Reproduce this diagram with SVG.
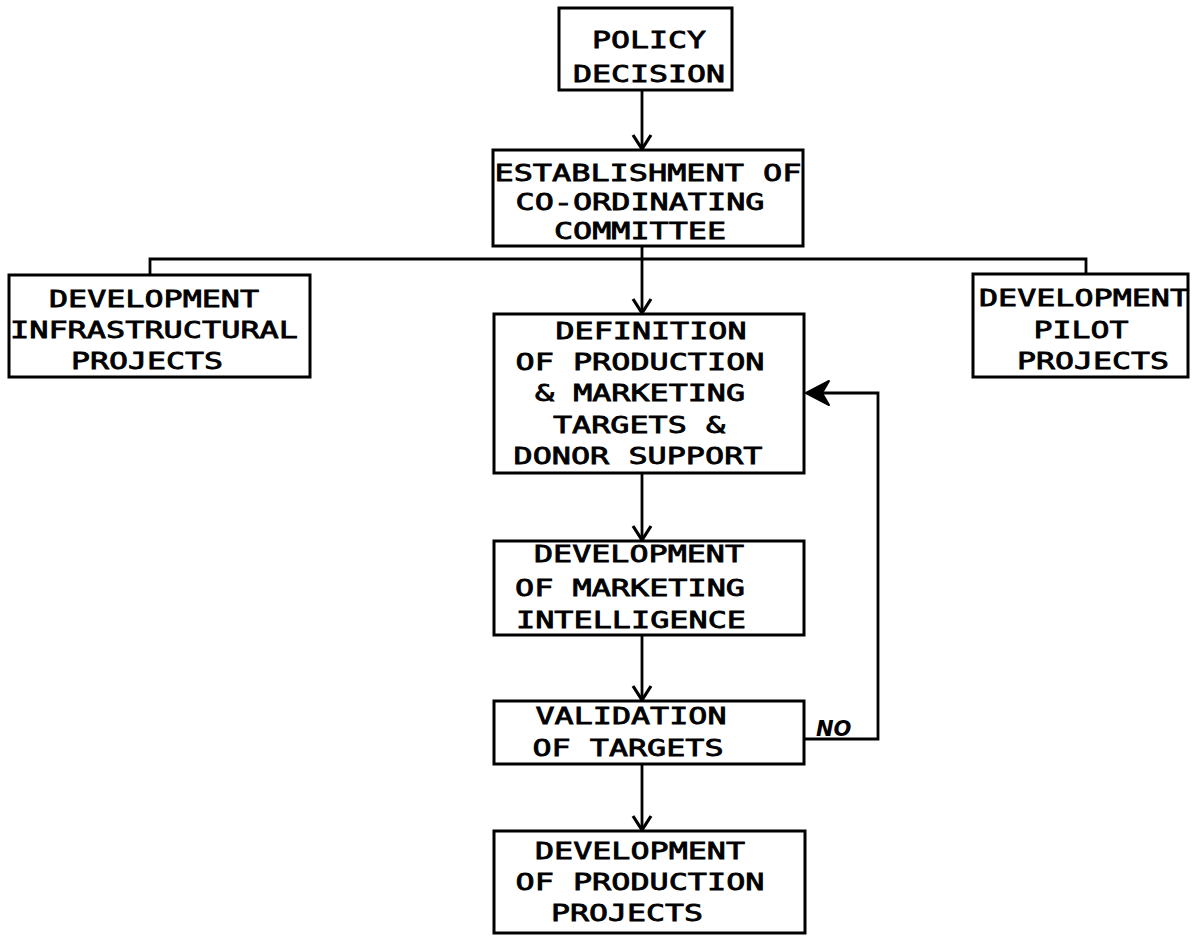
<svg xmlns="http://www.w3.org/2000/svg" width="1192" height="937" viewBox="0 0 1192 937">
<style>
.box{fill:#fff;stroke:#000;stroke-width:3}
.t{font-family:"DejaVu Sans Mono","Liberation Mono",monospace;font-size:23.5px;font-weight:normal;fill:#000;stroke:#000;stroke-width:0.8;text-anchor:middle}
.ln{fill:none;stroke:#000;stroke-width:2.8}
.no{font-family:"DejaVu Sans","Liberation Sans",sans-serif;font-size:21px;font-weight:bold;font-style:italic;fill:#000}
</style>
<defs>
<marker id="v" viewBox="-16 -11 18 22" markerWidth="18" markerHeight="22" refX="0" refY="0" orient="auto" markerUnits="userSpaceOnUse">
<path d="M-14,-9 L0,0 L-14,9" fill="none" stroke="#000" stroke-width="3.2"/>
</marker>
</defs>
<rect width="1192" height="937" fill="#fff"/>
<g id="connectors">
<line class="ln" x1="642" y1="90" x2="642" y2="149" marker-end="url(#v)"/>
<line class="ln" x1="642" y1="246" x2="642" y2="313" marker-end="url(#v)"/>
<polyline class="ln" points="150,275 150,259 1086,259 1086,274"/>
<line class="ln" x1="642" y1="473" x2="642" y2="540" marker-end="url(#v)"/>
<line class="ln" x1="642" y1="635" x2="642" y2="700" marker-end="url(#v)"/>
<line class="ln" x1="642" y1="764" x2="642" y2="830" marker-end="url(#v)"/>
<polyline class="ln" points="804,739 878,739 878,393 815,393"/>
<path d="M806,393 L829,381 L822,393 L829,405 Z" fill="#000" stroke="#000" stroke-width="2" stroke-linejoin="round"/>
<text class="no" x="816" y="736">NO</text>
</g>
<g id="policy">
<rect class="box" x="559" y="8" width="173" height="82"/>
<text class="t" x="649" y="48" textLength="114" lengthAdjust="spacingAndGlyphs">POLICY</text>
<text class="t" x="649" y="82" textLength="152" lengthAdjust="spacingAndGlyphs">DECISION</text>
</g>
<g id="establishment">
<rect class="box" x="493" y="150" width="310" height="96"/>
<text class="t" x="648" y="181" textLength="307" lengthAdjust="spacingAndGlyphs">ESTABLISHMENT OF</text>
<text class="t" x="640" y="210" textLength="249" lengthAdjust="spacingAndGlyphs">CO-ORDINATING</text>
<text class="t" x="640" y="239" textLength="172" lengthAdjust="spacingAndGlyphs">COMMITTEE</text>
</g>
<g id="infrastructural">
<rect class="box" x="9" y="275" width="301" height="102"/>
<text class="t" x="154" y="307" textLength="210" lengthAdjust="spacingAndGlyphs">DEVELOPMENT</text>
<text class="t" x="154" y="338" textLength="288" lengthAdjust="spacingAndGlyphs">INFRASTRUCTURAL</text>
<text class="t" x="147" y="369" textLength="152" lengthAdjust="spacingAndGlyphs">PROJECTS</text>
</g>
<g id="pilot">
<rect class="box" x="973" y="274" width="215" height="103"/>
<text class="t" x="1084" y="306" textLength="210" lengthAdjust="spacingAndGlyphs">DEVELOPMENT</text>
<text class="t" x="1081" y="338" textLength="95" lengthAdjust="spacingAndGlyphs">PILOT</text>
<text class="t" x="1093" y="369" textLength="152" lengthAdjust="spacingAndGlyphs">PROJECTS</text>
</g>
<g id="definition">
<rect class="box" x="494" y="314" width="310" height="159"/>
<text class="t" x="651" y="339" textLength="191" lengthAdjust="spacingAndGlyphs">DEFINITION</text>
<text class="t" x="640" y="370" textLength="249" lengthAdjust="spacingAndGlyphs">OF PRODUCTION</text>
<text class="t" x="640" y="401" textLength="210" lengthAdjust="spacingAndGlyphs">&amp; MARKETING</text>
<text class="t" x="639" y="433" textLength="172" lengthAdjust="spacingAndGlyphs">TARGETS &amp;</text>
<text class="t" x="638" y="464" textLength="249" lengthAdjust="spacingAndGlyphs">DONOR SUPPORT</text>
</g>
<g id="marketing">
<rect class="box" x="494" y="541" width="310" height="94"/>
<text class="t" x="639" y="562" textLength="210" lengthAdjust="spacingAndGlyphs">DEVELOPMENT</text>
<text class="t" x="630" y="596" textLength="230" lengthAdjust="spacingAndGlyphs">OF MARKETING</text>
<text class="t" x="631" y="628" textLength="230" lengthAdjust="spacingAndGlyphs">INTELLIGENCE</text>
</g>
<g id="validation">
<rect class="box" x="494" y="701" width="310" height="63"/>
<text class="t" x="631" y="724" textLength="191" lengthAdjust="spacingAndGlyphs">VALIDATION</text>
<text class="t" x="628" y="756" textLength="191" lengthAdjust="spacingAndGlyphs">OF TARGETS</text>
</g>
<g id="production">
<rect class="box" x="494" y="831" width="311" height="102"/>
<text class="t" x="640" y="859" textLength="210" lengthAdjust="spacingAndGlyphs">DEVELOPMENT</text>
<text class="t" x="640" y="890" textLength="249" lengthAdjust="spacingAndGlyphs">OF PRODUCTION</text>
<text class="t" x="627" y="921" textLength="152" lengthAdjust="spacingAndGlyphs">PROJECTS</text>
</g>
</svg>
